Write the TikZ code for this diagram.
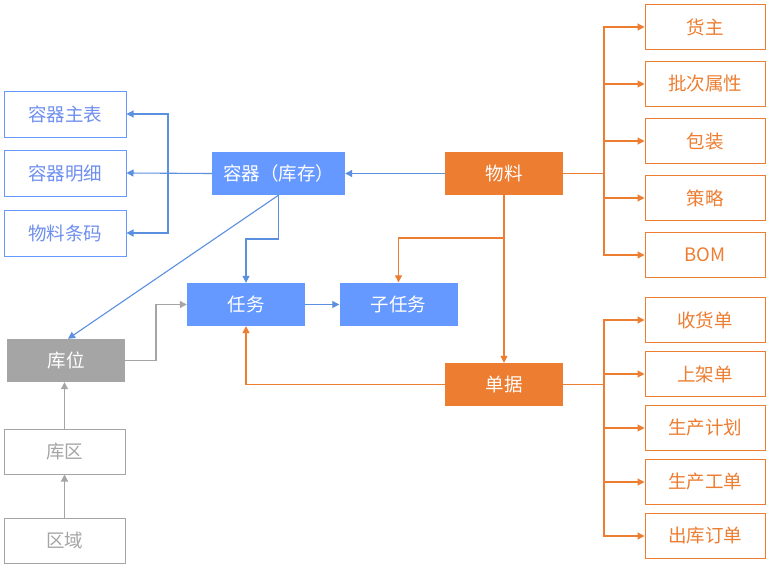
\documentclass[tikz,border=0pt]{standalone}
\usepackage{fontspec}
\setmainfont{Noto Sans CJK SC}
\usetikzlibrary{arrows.meta}
\definecolor{cblue}{HTML}{6699FF}
\definecolor{cbluet}{HTML}{6F8FEF}
\definecolor{cbline}{HTML}{5B8FE0}
\definecolor{corange}{HTML}{ED7D31}
\definecolor{cgray}{HTML}{A5A5A5}
\begin{document}
\begin{tikzpicture}[x=1pt,y=-1pt,
  every node/.style={font=\fontsize{18.5}{22}\selectfont, inner sep=0pt},
  bfill/.style={rectangle, fill=cblue, text=white, minimum width=118pt, minimum height=43pt},
  ofill/.style={rectangle, fill=corange, text=white, minimum width=118pt, minimum height=43pt},
  gfill/.style={rectangle, fill=cgray, text=white, minimum width=118pt, minimum height=43pt},
  lbox/.style={rectangle, draw=cblue, line width=1pt, text=cbluet, minimum width=122pt, minimum height=46pt},
  rbox/.style={rectangle, draw=corange, line width=1pt, text=corange, minimum width=120pt, minimum height=45pt},
  gbox/.style={rectangle, draw=cgray, line width=1pt, text=cgray, minimum width=121pt, minimum height=45pt},
  tip/.style={-{Triangle[length=7pt,width=7pt]}},
  barr/.style={draw=cbline, line width=1.1pt, tip},
  oarr/.style={draw=corange, line width=1.2pt, tip},
  oline/.style={draw=corange, line width=1.2pt},
  garr/.style={draw=cgray, line width=1.2pt, tip}]
\useasboundingbox[fill=white] (0,0) rectangle (771,568);

% left
\node[lbox] (zb) at (65,114) {容器主表};
\node[lbox] (mx) at (65,173) {容器明细};
\node[lbox] (tm) at (65,233) {物料条码};
\node[bfill, minimum width=133pt] (rq) at (278.5,173.5) {容器（库存）};
\node[ofill] (wu) at (504,173.5) {物料};
\node[bfill] (rw) at (246,304.5) {任务};
\node[bfill] (zrw) at (398.5,304) {子任务};
\node[ofill] (dj) at (504,384.5) {单据};
\node[gfill] (kw) at (66,360.5) {库位};
\node[gbox] (kq) at (64.5,451.5) {库区};
\node[gbox] (ky) at (64.5,540.5) {区域};

% right
\node[rbox] (hz) at (705,27) {货主};
\node[rbox] (pc) at (705,84) {批次属性};
\node[rbox] (bz) at (705,141) {包装};
\node[rbox] (cl) at (705,198) {策略};
\node[rbox] (bom) at (705,255) {BOM};
\node[rbox] (sh) at (705,320) {收货单};
\node[rbox] (sj) at (705,374) {上架单};
\node[rbox] (jh) at (705,428) {生产计划};
\node[rbox] (gd) at (705,482) {生产工单};
\node[rbox] (ck) at (705,536) {出库订单};

% blue connectors
\draw[barr] (wu.west) -- (rq.east);
\draw[barr] (rq.west) -- (mx.east);
\coordinate (lb) at (168,173.5);
\draw[barr] (lb) |- (zb.east);
\draw[barr] (lb) |- (tm.east);
\coordinate (rqb) at (278.5,239);
\draw[barr] (rq.south) -- (rqb) -| (rw.north);
\draw[barr] (rq.south) -- ([xshift=2pt]kw.north);
\draw[barr] (rw.east) -- (rw.east -| zrw.west);

% gray connectors
\coordinate (kwr) at (156,360.5);
\draw[garr] (kw.east) -- (kwr) |- (rw.west);
\draw[garr] (ky.north) -- (kq.south);
\draw[garr] (kq.north) -- ([xshift=-1.5pt]kw.south);

% orange connectors
\coordinate (wb) at (504,238);
\draw[oarr] (wu.south) -- (dj.north);
\draw[oarr] (wb) -| (zrw.north);
\draw[oarr] (dj.west) -| (rw.south);

\coordinate (b1) at (604,173.5);
\draw[oline] (wu.east) -- (b1);
\foreach \t in {hz,pc,bz,cl,bom} \draw[oarr] (b1) |- (\t.west);
\coordinate (b2) at (604,384.5);
\draw[oline] (dj.east) -- (b2);
\foreach \t in {sh,sj,jh,gd,ck} \draw[oarr] (b2) |- (\t.west);
\end{tikzpicture}
\end{document}
